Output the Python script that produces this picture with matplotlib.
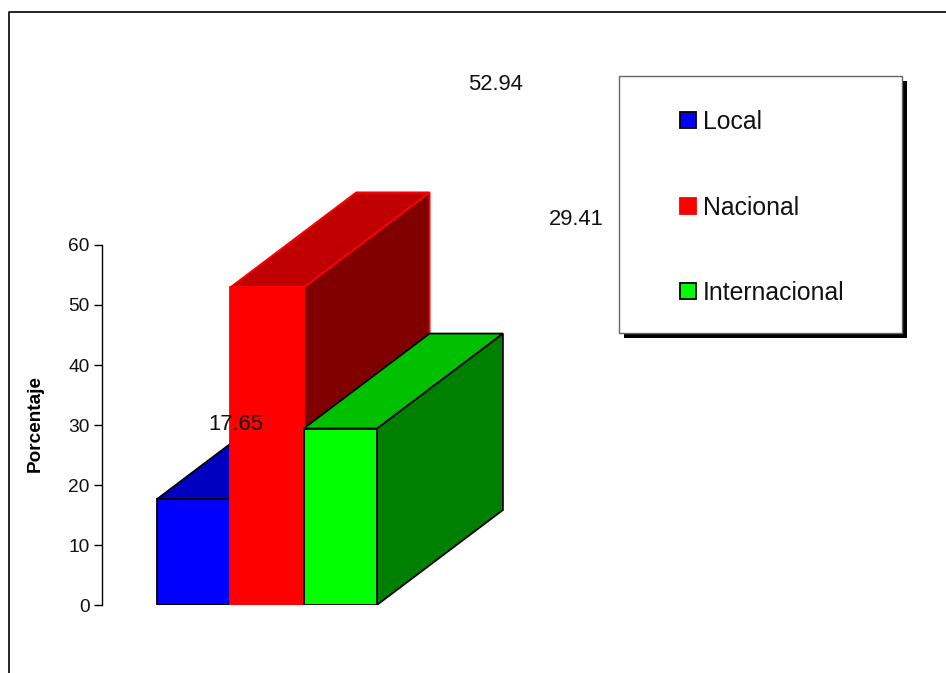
import matplotlib
matplotlib.use("Agg")
import matplotlib.pyplot as plt
from matplotlib.patches import Polygon, Rectangle
from matplotlib.lines import Line2D

# ---- data ----
categories = ["Local", "Nacional", "Internacional"]
values = [17.65, 52.94, 29.41]
y_ticks = [0, 10, 20, 30, 40, 50, 60]
y_label = "Porcentaje"

# ---- styles ----
front_colors = ["#0000FF", "#FF0000", "#00FF00"]
top_colors = ["#0000C0", "#C00000", "#00C000"]
side_colors = ["#000080", "#800000", "#008000"]
edge_colors = ["black", "#FF0000", "black"]
# value-label anchor points (data coordinates)
label_pos = [(1.08, 30.0), (4.62, 86.7), (5.72, 64.3)]

plt.rcParams["font.family"] = ["Liberation Sans", "DejaVu Sans"]

W, H = 946, 673
fig = plt.figure(figsize=(W / 100, H / 100), dpi=100)

# axes placed in pixel terms
ax_left, ax_right = 102, 940
ax_bottom, ax_top = 605, 15          # pixel rows (from top)
px_per_unit_y = 6.0                  # 60 units span 360 px
px_per_unit_x = 73.3                 # one bar width
ax = fig.add_axes([ax_left / W, (H - ax_bottom) / H,
                   (ax_right - ax_left) / W, (ax_bottom - ax_top) / H])
x0 = -55 / px_per_unit_x
ax.set_xlim(x0, x0 + (ax_right - ax_left) / px_per_unit_x)
ax.set_ylim(0, (ax_bottom - ax_top) / px_per_unit_y)

# depth offset of the extruded bars
dx = 126 / px_per_unit_x
dy = 95 / px_per_unit_y

for i, v in enumerate(values):
    xl, xr = i, i + 1
    ec = edge_colors[i]
    lw = 1.3
    side = Polygon([(xr, 0), (xr + dx, dy), (xr + dx, v + dy), (xr, v)],
                   closed=True, facecolor=side_colors[i], edgecolor=ec,
                   linewidth=lw, joinstyle="miter")
    top = Polygon([(xl, v), (xl + dx, v + dy), (xr + dx, v + dy), (xr, v)],
                  closed=True, facecolor=top_colors[i], edgecolor=ec,
                  linewidth=lw, joinstyle="miter")
    front = Polygon([(xl, 0), (xr, 0), (xr, v), (xl, v)], closed=True,
                    facecolor=front_colors[i], edgecolor=ec, linewidth=lw,
                    joinstyle="miter")
    for p in (side, top, front):
        ax.add_patch(p)

for (lx, ly), v in zip(label_pos, values):
    ax.text(lx, ly, f"{v:.2f}", ha="center", va="center", fontsize=15.8,
            color="#111111", zorder=10)

# axis styling
for s in ("top", "right", "bottom"):
    ax.spines[s].set_visible(False)
ax.spines["left"].set_bounds(0, 60)
ax.spines["left"].set_linewidth(1.0)
ax.set_xticks([])
ax.set_yticks(y_ticks)
ax.set_yticklabels([str(t) for t in y_ticks])
ax.tick_params(axis="y", length=6, width=1.0, pad=3, labelsize=13.8,
               labelcolor="#111111")
ax.set_ylabel(y_label, fontsize=13.7, fontweight="bold", va="center")
ax.yaxis.set_label_coords((35 - ax_left) / (ax_right - ax_left),
                          (ax_bottom - 423.5) / (ax_bottom - ax_top))
ax.patch.set_alpha(0)


def fx(px):
    return px / W


def fy(py):
    return 1 - py / H


# legend with drop shadow
lb_l, lb_r, lb_t, lb_b = 619, 902, 76, 333
shadow = Rectangle((fx(lb_l + 5), fy(lb_b + 5)), fx(lb_r - lb_l), (lb_b - lb_t) / H,
                   transform=fig.transFigure, facecolor="black", edgecolor="none",
                   zorder=1)
box = Rectangle((fx(lb_l), fy(lb_b)), fx(lb_r - lb_l), (lb_b - lb_t) / H,
                transform=fig.transFigure, facecolor="white", edgecolor="#666666",
                linewidth=1.0, zorder=2)
fig.add_artist(shadow)
fig.add_artist(box)
legend_rows = [120, 206, 291]
sq = 16
for cat, fc, ec, ry in zip(categories, front_colors, edge_colors, legend_rows):
    fig.add_artist(Rectangle((fx(680), fy(ry + sq / 2)), fx(sq), sq / H,
                             transform=fig.transFigure, facecolor=fc,
                             edgecolor=ec, linewidth=1.3, zorder=3))
    fig.text(fx(703), fy(ry + 2), cat, ha="left", va="center", fontsize=17.8,
             color="#111111", zorder=4)

# outer frame (left and top edges)
fig.add_artist(Line2D([fx(9), fx(9), fx(W)], [0, fy(12), fy(12)],
                      transform=fig.transFigure, color="black", linewidth=1.2))

fig.savefig("out.png", dpi=100)
